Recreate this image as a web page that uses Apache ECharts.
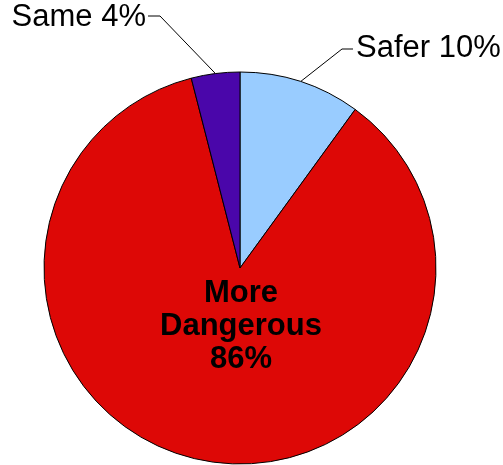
<!DOCTYPE html>
<html>
<head>
<meta charset="utf-8">
<script src="https://cdn.jsdelivr.net/npm/echarts@6/dist/echarts.min.js"></script>
<style>
  html, body { margin: 0; padding: 0; background: #fff; }
  #chart { width: 503px; height: 465px; }
</style>
</head>
<body>
<div id="chart"></div>
<script>
// Share of answers, clockwise from 12 o'clock
const categories = ['Safer', 'More Dangerous', 'Same'];
const shares = [10, 86, 4];
const sliceColors = ['#99CCFF', '#DD0806', '#4A06AA'];

const chart = echarts.init(document.getElementById('chart'), null, { renderer: 'canvas' });

const data = categories.map((name, i) => ({
  name: name,
  value: shares[i],
  itemStyle: { color: sliceColors[i] },
  label: i === 1
    ? { position: 'inside',
        formatter: '{b|More}\n{b|Dangerous}\n{b|' + shares[i] + '%}',
        rich: { b: { fontWeight: 'bold', fontSize: 31, lineHeight: 33, color: '#000',
                     fontFamily: 'Liberation Sans, Arial, sans-serif' } } }
    : { position: 'outside', formatter: name + ' ' + shares[i] + '%' },
  labelLine: { show: i !== 1 }
}));

chart.setOption({
  animation: false,
  series: [{
    type: 'pie',
    center: [240, 268],
    radius: 196,
    startAngle: 90,
    clockwise: true,
    data: data,
    itemStyle: { borderColor: '#000', borderWidth: 1 },
    label: {
      color: '#000',
      fontSize: 31,
      fontFamily: 'Liberation Sans, Arial, sans-serif'
    },
    labelLine: {
      lineStyle: { color: '#000', width: 1 },
      length: 20,
      length2: 10
    },
    labelLayout: function (params) {
      const p0 = params.labelLinePoints ? params.labelLinePoints[0] : null;
      if (params.dataIndex === 0) {
        return {
          x: 356, y: 48, align: 'left', verticalAlign: 'middle',
          labelLinePoints: [p0, [342, 49], [353, 49]]
        };
      }
      if (params.dataIndex === 2) {
        return {
          x: 146, y: 17, align: 'right', verticalAlign: 'middle',
          labelLinePoints: [p0, [160, 16], [148, 16]]
        };
      }
      return { x: 241, y: 326, align: 'center', verticalAlign: 'middle' };
    }
  }]
});
</script>
</body>
</html>
